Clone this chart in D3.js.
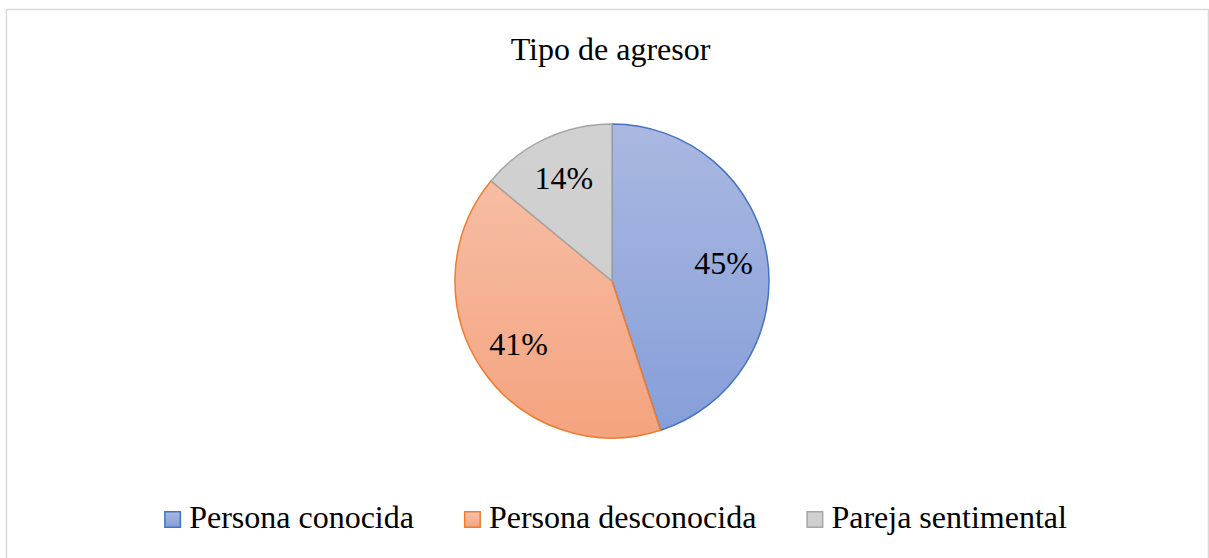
<!DOCTYPE html>
<html>
<head>
<meta charset="utf-8">
<script src="https://cdn.jsdelivr.net/npm/d3@7"></script>
<style>
  html, body { margin: 0; padding: 0; background: #fff; }
</style>
</head>
<body>
<svg id="chart" width="1209" height="558"></svg>
<script>
const title = "Tipo de agresor";
const categories = ["Persona conocida", "Persona desconocida", "Pareja sentimental"];
const values = [45, 41, 14];
const fillTop = ["#aab8e1", "#f7c3ab", "#d1d1d1"];
const fillBottom = ["#859ed8", "#f4a37f", "#cecece"];
const strokes = ["#4472c4", "#ed7d31", "#a5a5a5"];

const FONT = "'Liberation Serif', 'Times New Roman', 'DejaVu Serif', serif";
const W = 1209, H = 558;
const svg = d3.select("#chart");

svg.append("rect")
  .attr("x", 6.5).attr("y", 9.5)
  .attr("width", 1202).attr("height", 560)
  .attr("fill", "#fff").attr("stroke", "#d9d9d9").attr("stroke-width", 1.5);

svg.append("text")
  .attr("x", 610.5).attr("y", 60)
  .attr("text-anchor", "middle")
  .attr("font-family", FONT)
  .attr("font-size", 32)
  .attr("fill", "#000")
  .text(title);

const cx = 612, cy = 281, r = 157;

const defs = svg.append("defs");
categories.forEach((c, i) => {
  const g = defs.append("linearGradient")
    .attr("id", "grad" + i)
    .attr("gradientUnits", "userSpaceOnUse")
    .attr("x1", 0).attr("y1", -r).attr("x2", 0).attr("y2", r);
  g.append("stop").attr("offset", "0%").attr("stop-color", fillTop[i]);
  g.append("stop").attr("offset", "100%").attr("stop-color", fillBottom[i]);
  const lg = defs.append("linearGradient")
    .attr("id", "lg" + i)
    .attr("x1", 0).attr("y1", 0).attr("x2", 0).attr("y2", 1);
  lg.append("stop").attr("offset", "0%").attr("stop-color", fillTop[i]);
  lg.append("stop").attr("offset", "100%").attr("stop-color", fillBottom[i]);
});

const pie = d3.pie().value(d => d).sort(null);
const arcs = pie(values);
const arc = d3.arc().innerRadius(0).outerRadius(r);
const labelArc = d3.arc().innerRadius(r * 0.72).outerRadius(r * 0.72);

const gPie = svg.append("g").attr("transform", `translate(${cx},${cy})`);
gPie.selectAll("path")
  .data(arcs)
  .join("path")
  .attr("d", arc)
  .attr("fill", (d, i) => `url(#grad${i})`)
  .attr("stroke", (d, i) => strokes[i])
  .attr("stroke-width", 1.5)
  .attr("stroke-linejoin", "round");

const total = d3.sum(values);
gPie.selectAll("text.lbl")
  .data(arcs)
  .join("text")
  .attr("class", "lbl")
  .attr("transform", d => `translate(${labelArc.centroid(d)})`)
  .attr("text-anchor", "middle")
  .attr("dy", "0.33em")
  .attr("font-family", FONT)
  .attr("font-size", 32)
  .attr("fill", "#000")
  .text(d => Math.round(d.data / total * 100) + "%");

const legend = svg.append("g");
const sw = 17, gapText = 8, gapItem = 50, legY = 528;
const items = legend.selectAll("g.item")
  .data(categories)
  .join("g").attr("class", "item");
items.append("rect")
  .attr("x", 0.75).attr("y", legY - sw + 0.75)
  .attr("width", sw - 1.5).attr("height", sw - 1.5)
  .attr("fill", (d, i) => `url(#lg${i})`)
  .attr("stroke", (d, i) => strokes[i])
  .attr("stroke-width", 1.5);
items.append("text")
  .attr("x", sw + gapText).attr("y", legY)
  .attr("font-family", FONT)
  .attr("font-size", 32)
  .attr("fill", "#000")
  .text(d => d);

let widths = [];
items.each(function() {
  widths.push(sw + gapText + d3.select(this).select("text").node().getComputedTextLength());
});
const totalW = d3.sum(widths) + gapItem * (widths.length - 1);
let x = 615.5 - totalW / 2;
items.each(function(d, i) {
  d3.select(this).attr("transform", `translate(${x},0)`);
  x += widths[i] + gapItem;
});
</script>
</body>
</html>
